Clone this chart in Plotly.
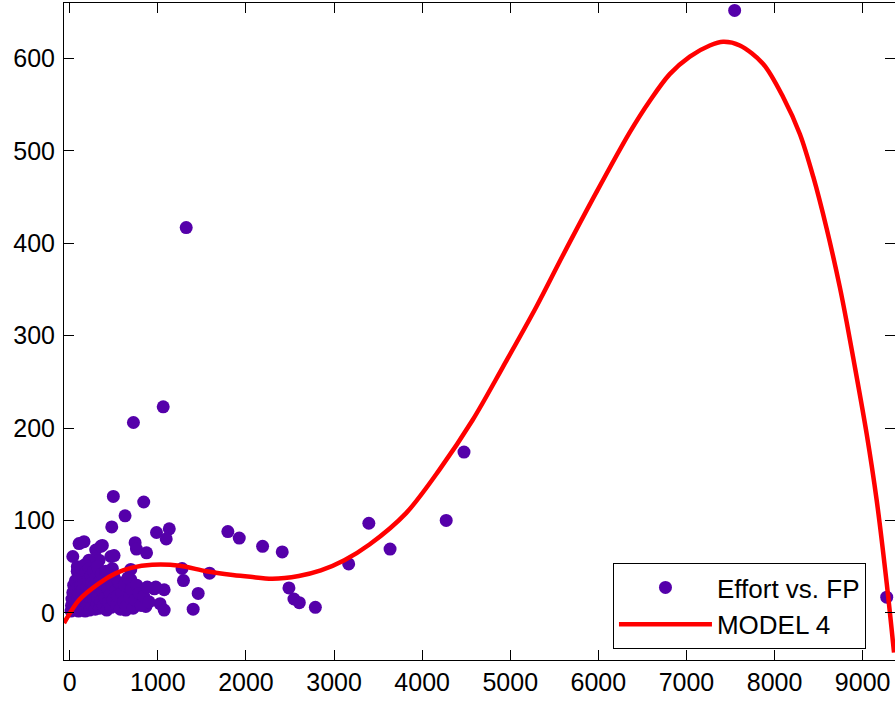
import plotly.graph_objects as go

# Scatter data: Effort vs. FP
outlier_x = [7547, 1322, 1061, 723, 4475, 495, 840, 628, 4273, 3395, 477, 1130, 985, 1795,
             1924, 1095, 2189, 2412, 3636, 3166, 742, 757, 872, 1275, 1291, 1587, 2488, 2545,
             2606, 2788, 1458, 1401, 9273, 977, 1072, 1025, 1072, 693, 693, 960, 825, 864,
             750, 788, 636, 580, 523, 409, 295]
outlier_y = [652, 417, 223, 206, 174, 126, 120, 105, 100, 97, 93, 91, 87, 88,
             81, 80, 72, 66, 69, 53, 76, 69, 65, 48, 35, 43, 27, 15,
             11, 6, 21, 4, 17, 28, 25, 10, 3, 47, 36, 26, 16, 7,
             12, 25, 3, 25, 28, 21, 10]

upper_x = [35, 106, 162, 295, 370, 466, 503, 333, 484, 257, 106, 86, 219, 352]
upper_y = [61, 75, 77, 68, 73, 61, 62, 57, 48, 43, 43, 50, 57, 72]

cluster_x = [15, 20, 25, 30, 35, 40, 45, 50, 55, 60, 65, 70, 75, 80, 85, 90, 95, 100,
             105, 110, 115, 120, 125, 130, 135, 140, 145, 150, 155, 160, 165, 170, 175,
             180, 185, 190, 195, 200, 210, 215, 220, 225, 230, 240, 245, 250, 255, 260,
             270, 275, 280, 290, 295, 300, 310, 315, 320, 330, 340, 345, 350, 360, 370,
             380, 390, 400, 410, 420, 430, 440, 450, 460, 470, 480, 490, 500, 520, 530,
             540, 560, 575, 590, 610, 620, 640, 660, 680, 700, 720, 740, 760, 790, 810,
             840, 880, 900]
cluster_y = [2, 8, 15, 4, 22, 10, 30, 5, 18, 12, 35, 3, 25, 8, 45, 15, 28, 2,
             20, 38, 6, 12, 30, 48, 18, 4, 25, 40, 9, 33, 15, 52, 2,
             22, 44, 11, 28, 6, 36, 18, 48, 3, 26, 40, 12, 32, 7, 20,
             45, 14, 30, 4, 38, 22, 10, 50, 17, 28, 5, 35, 13, 42, 24,
             8, 30, 16, 45, 3, 27, 12, 36, 20, 6, 31, 14, 40, 24, 9,
             18, 33, 4, 22, 12, 30, 7, 38, 17, 26, 5, 14, 30, 21, 8,
             18, 28, 12]

fp_x = outlier_x + upper_x + cluster_x
effort_y = outlier_y + upper_y + cluster_y

# Fitted curve MODEL 4
model_x = [-65, 106, 333, 526, 708, 935, 1250, 1550, 1850, 2050, 2300, 2600, 2850, 3117,
           3402, 3818, 4197, 4575, 4916, 5295, 5598, 5977, 6356, 6583, 6810, 7038, 7265,
           7416, 7606, 7871, 8098, 8288, 8439, 8591, 8742, 8818, 8893, 9045, 9159, 9273, 9356]
model_y = [-11, 14, 32, 43, 49, 52, 51, 45, 41, 39, 37, 40, 46, 57,
           74, 108, 155, 209, 266, 331, 387, 455, 520, 554, 583, 602, 614,
           618, 614, 594, 558, 518, 472, 416, 352, 315, 276, 194, 122, 32, -43]

x_ticks = [0, 1000, 2000, 3000, 4000, 5000, 6000, 7000, 8000, 9000]
y_ticks = [0, 100, 200, 300, 400, 500, 600]

FONT = "Liberation Sans, Arial, sans-serif"

fig = go.Figure()
fig.add_trace(go.Scatter(
    x=fp_x, y=effort_y, mode="markers", name="Effort vs. FP",
    marker=dict(color="#5500AA", size=13, line=dict(width=0)),
))
fig.add_trace(go.Scatter(
    x=model_x, y=model_y, mode="lines", name="MODEL 4",
    line=dict(color="#FF0000", width=4.5, shape="spline", smoothing=0.9, simplify=False),
))

axis_common = dict(
    showgrid=False, zeroline=False, showline=True, linecolor="black", linewidth=1,
    mirror="ticks", ticks="inside", ticklen=10, tickwidth=1, tickcolor="black",
    tickfont=dict(family=FONT, size=25, color="black"),
)

fig.update_layout(
    width=895, height=704,
    margin=dict(l=64, r=0, t=3, b=44),
    paper_bgcolor="white", plot_bgcolor="white",
    font=dict(family=FONT, size=25, color="black"),
    xaxis=dict(range=[-65, 9367], tickvals=x_ticks, ticktext=[str(v) for v in x_ticks],
               **axis_common),
    yaxis=dict(range=[-51, 660], tickvals=y_ticks, ticktext=[str(v) for v in y_ticks],
               ticklabelstandoff=3, **axis_common),
    legend=dict(
        x=0.6606, y=0.1476, xanchor="left", yanchor="top",
        bgcolor="white", bordercolor="black", borderwidth=1,
        font=dict(family=FONT, size=26, color="black"),
        itemwidth=93, tracegroupgap=0,
    ),
    showlegend=True,
)

fig.write_html("out.html")
